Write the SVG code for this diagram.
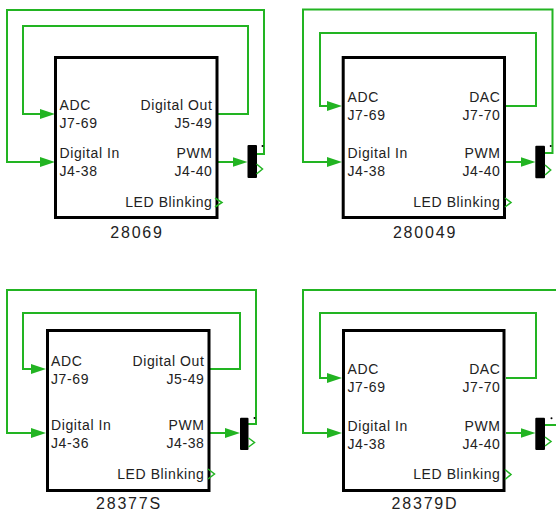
<svg xmlns="http://www.w3.org/2000/svg" width="556" height="511" viewBox="0 0 556 511">
<style>
.box{fill:#fff;stroke:#000;stroke-width:3}
.lbl{font-family:"Liberation Sans",Arial,sans-serif;font-size:14px;letter-spacing:0.6px;fill:#222}
.r{text-anchor:end}
.ttl{font-family:"Liberation Sans",Arial,sans-serif;font-size:16px;letter-spacing:1.8px;fill:#222;text-anchor:middle}
.wire{fill:none;stroke:#22b422;stroke-width:2}
.chev{fill:none;stroke:#22b422;stroke-width:1.5}
.bar{fill:#000}
</style>
<defs>
<marker id="arr" viewBox="0 0 15 10" refX="11" refY="5" markerWidth="15" markerHeight="10" markerUnits="userSpaceOnUse" orient="auto">
<path d="M0,0 L15,5 L0,10 z" fill="#22b422"/>
</marker>
</defs>
<rect width="556" height="511" fill="#fff"/>
<g id="connectors">
<path class="wire" marker-end="url(#arr)" d="M218,114 H248 V26 H23 V114 H51"/>
<path class="wire" marker-end="url(#arr)" d="M256,154 H264 V10 H7 V162 H51"/>
<path class="wire" marker-end="url(#arr)" d="M218,162 H243.5"/>
<path class="wire" marker-end="url(#arr)" d="M506,106 H536 V33 H320 V106 H338"/>
<path class="wire" marker-end="url(#arr)" d="M544,153 H552.5 V9.5 H303 V162 H338"/>
<path class="wire" marker-end="url(#arr)" d="M506,162 H531.5"/>
<path class="wire" marker-end="url(#arr)" d="M210,369 H240 V313 H23 V369 H42"/>
<path class="wire" marker-end="url(#arr)" d="M248,424 H256 V290 H7 V433 H42"/>
<path class="wire" marker-end="url(#arr)" d="M210,433 H236"/>
<path class="wire" marker-end="url(#arr)" d="M506,378 H536 V313 H320 V378 H338"/>
<path class="wire" marker-end="url(#arr)" d="M544,425 H570 V290 H303 V433 H338"/>
<path class="wire" marker-end="url(#arr)" d="M506,433 H531.5"/>
</g>
<g id="block-28069">
<rect class="box" x="55.5" y="57.5" width="161.5" height="160"/>
<text class="lbl" x="59.5" y="110">ADC</text>
<text class="lbl" x="59.5" y="128">J7-69</text>
<text class="lbl" x="59.5" y="158">Digital In</text>
<text class="lbl" x="59.5" y="176">J4-38</text>
<text class="lbl r" x="212.5" y="110">Digital Out</text>
<text class="lbl r" x="212.5" y="128">J5-49</text>
<text class="lbl r" x="212.5" y="158">PWM</text>
<text class="lbl r" x="212.5" y="176">J4-40</text>
<text class="lbl r" x="212.5" y="207">LED Blinking</text>
<polyline class="chev" points="215,198 222,202.5 215,207"/>
<text class="ttl" x="137" y="238">28069</text>
</g>
<g id="mux-28069">
<rect class="bar" x="247.5" y="145" width="9.5" height="33" rx="1"/>
<circle cx="262.5" cy="146" r="1" fill="#000"/>
<polyline class="chev" points="256.5,164 262.5,169 256.5,174"/>
</g>
<g id="block-280049">
<rect class="box" x="343.2" y="57.5" width="161.3" height="160"/>
<text class="lbl" x="347.5" y="102">ADC</text>
<text class="lbl" x="347.5" y="120">J7-69</text>
<text class="lbl" x="347.5" y="158">Digital In</text>
<text class="lbl" x="347.5" y="176">J4-38</text>
<text class="lbl r" x="500.5" y="102">DAC</text>
<text class="lbl r" x="500.5" y="120">J7-70</text>
<text class="lbl r" x="500.5" y="158">PWM</text>
<text class="lbl r" x="500.5" y="176">J4-40</text>
<text class="lbl r" x="500.5" y="207">LED Blinking</text>
<polyline class="chev" points="505,198 511,202.5 505,207"/>
<text class="ttl" x="425" y="238">280049</text>
</g>
<g id="mux-280049">
<rect class="bar" x="535.3" y="145.7" width="9.7" height="32.6" rx="1"/>
<circle cx="550.7" cy="146" r="1" fill="#000"/>
<polyline class="chev" points="545,165 550.7,170 545,175"/>
</g>
<g id="block-28377S">
<rect class="box" x="47.5" y="330.5" width="161.5" height="160"/>
<text class="lbl" x="51" y="365.5">ADC</text>
<text class="lbl" x="51" y="383.5">J7-69</text>
<text class="lbl" x="51" y="429.5">Digital In</text>
<text class="lbl" x="51" y="447.5">J4-36</text>
<text class="lbl r" x="204.5" y="365.5">Digital Out</text>
<text class="lbl r" x="204.5" y="383.5">J5-49</text>
<text class="lbl r" x="204.5" y="429.5">PWM</text>
<text class="lbl r" x="204.5" y="447.5">J4-38</text>
<text class="lbl r" x="204.5" y="478.5">LED Blinking</text>
<polyline class="chev" points="208,469 214.5,474 208,479"/>
<text class="ttl" x="129" y="509">28377S</text>
</g>
<g id="mux-28377S">
<rect class="bar" x="240" y="417.7" width="8.5" height="32.3" rx="1"/>
<circle cx="254.5" cy="418" r="1" fill="#000"/>
<polyline class="chev" points="248.5,438 254.5,442.5 248.5,447"/>
</g>
<g id="block-28379D">
<rect class="box" x="343.5" y="330.5" width="160.5" height="160"/>
<text class="lbl" x="347.5" y="374">ADC</text>
<text class="lbl" x="347.5" y="392">J7-69</text>
<text class="lbl" x="347.5" y="430.5">Digital In</text>
<text class="lbl" x="347.5" y="448.5">J4-38</text>
<text class="lbl r" x="500.5" y="374">DAC</text>
<text class="lbl r" x="500.5" y="392">J7-70</text>
<text class="lbl r" x="500.5" y="430.5">PWM</text>
<text class="lbl r" x="500.5" y="448.5">J4-40</text>
<text class="lbl r" x="500.5" y="479">LED Blinking</text>
<polyline class="chev" points="505,469.5 511,474.5 505,479.5"/>
<text class="ttl" x="425" y="509">28379D</text>
</g>
<g id="mux-28379D">
<rect class="bar" x="535.3" y="417.7" width="9.7" height="32.3" rx="1"/>
<circle cx="551.5" cy="418.3" r="1" fill="#000"/>
<polyline class="chev" points="545,437 551,441.5 545,446"/>
</g>
</svg>
